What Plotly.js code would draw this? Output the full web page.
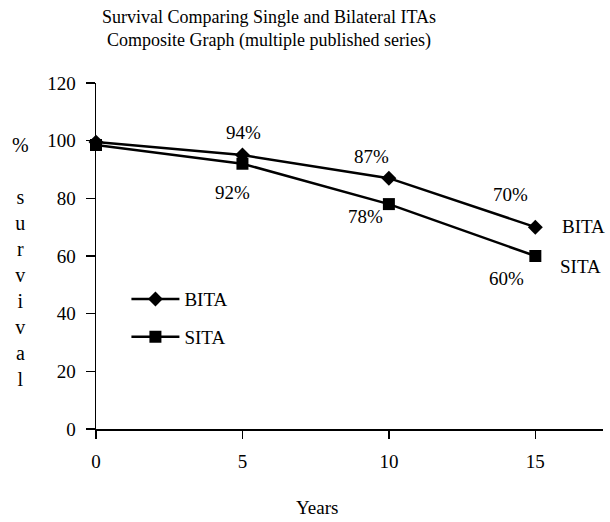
<!DOCTYPE html>
<html>
<head>
<meta charset="utf-8">
<script src="https://cdn.plot.ly/plotly-3.0.1.min.js"></script>
<style>html,body{margin:0;padding:0;background:#fff;}#chart{width:610px;height:522px;}</style>
</head>
<body>
<div id="chart"></div>
<script>
const years = [0, 5, 10, 15];
const bita = [99.5, 95, 87, 70];
const sita = [98.5, 92, 78, 60];
const bitaLabels = ["94%", "87%", "70%"];
const sitaLabels = ["92%", "78%", "60%"];
const xTicks = [0, 5, 10, 15];
const yTicks = [0, 20, 40, 60, 80, 100, 120];

const FONT = "Liberation Serif, Times New Roman, serif";

const traces = [
  {x: years, y: bita, name: "BITA", mode: "lines+markers", type: "scatter",
   line: {color: "#000", width: 2.5}, marker: {symbol: "diamond", size: 11.5, color: "#000"},
   cliponaxis: false, legendgroup: "b"},
  {x: years, y: sita, name: "SITA", mode: "lines+markers", type: "scatter",
   line: {color: "#000", width: 2.5}, marker: {symbol: "square", size: 12, color: "#000"},
   cliponaxis: false, legendgroup: "s"}
];

// label offsets (in data units) relative to the points they describe
const bitaOff = [[0.03, 8], [-0.58, 7.4], [-0.86, 11.4]];
const sitaOff = [[-0.35, -10.1], [-0.81, -4.2], [-0.97, -7.8]];

const ann = [];
for (let i = 0; i < 3; i++) {
  ann.push({x: years[i+1] + bitaOff[i][0], y: bita[i+1] + bitaOff[i][1], text: bitaLabels[i],
            showarrow: false, font: {family: FONT, size: 19, color: "#000"}});
  ann.push({x: years[i+1] + sitaOff[i][0], y: sita[i+1] + sitaOff[i][1], text: sitaLabels[i],
            showarrow: false, font: {family: FONT, size: 19, color: "#000"}});
}
ann.push({x: 15.83, y: bita[3] + 0.2, text: "BITA", xanchor: "left", showarrow: false,
          font: {family: FONT, size: 19, color: "#000"}});
ann.push({x: 15.78, y: sita[3] - 3.5, text: "SITA", xanchor: "left", showarrow: false,
          font: {family: FONT, size: 19, color: "#000"}});
ann.push({xref: "paper", yref: "paper", x: 0, xshift: -76, y: 0.4827, xanchor: "center", yanchor: "middle",
          text: "%<br><br>s<br>u<br>r<br>v<br>i<br>v<br>a<br>l", showarrow: false,
          font: {family: FONT, size: 20, color: "#000"}});
ann.push({x: 7.55, yref: "paper", y: -0.227, text: "Years", showarrow: false, yanchor: "middle",
          font: {family: FONT, size: 19, color: "#000"}});

const layout = {
  width: 610, height: 522,
  paper_bgcolor: "#fff", plot_bgcolor: "#fff",
  margin: {l: 96, r: 7, t: 83, b: 93, pad: 0},
  font: {family: FONT, size: 19, color: "#000"},
  title: {text: "Survival Comparing Single and Bilateral ITAs<br>Composite Graph (multiple published series)",
          font: {family: FONT, size: 18, color: "#000"},
          xref: "container", x: 269/610, xanchor: "center",
          yref: "container", y: 1 - 23/522, yanchor: "middle"},
  xaxis: {range: [0, 17.31], tickvals: xTicks, ticktext: xTicks.map(String),
          showline: true, linecolor: "#000", linewidth: 1.5, ticks: "outside", ticklen: 8,
          tickwidth: 1.5, tickcolor: "#000", showgrid: false, zeroline: false,
          ticklabelstandoff: 7,
          tickfont: {family: FONT, size: 19}, fixedrange: true},
  yaxis: {range: [0, 120], tickvals: yTicks, ticktext: yTicks.map(String),
          showline: true, linecolor: "#000", linewidth: 1.5, ticks: "outside", ticklen: 9,
          tickwidth: 1.5, tickcolor: "#000", showgrid: false, zeroline: false,
          ticklabelstandoff: 6,
          tickfont: {family: FONT, size: 19}, fixedrange: true},
  showlegend: true,
  legend: {x: 0.06, y: 0.43, xanchor: "left", yanchor: "top", bgcolor: "rgba(0,0,0,0)",
           font: {family: FONT, size: 19, color: "#000"}, traceorder: "grouped",
           tracegroupgap: 10, itemwidth: 48},
  annotations: ann
};

Plotly.newPlot("chart", traces, layout, {staticPlot: true, displayModeBar: false});
</script>
</body>
</html>
